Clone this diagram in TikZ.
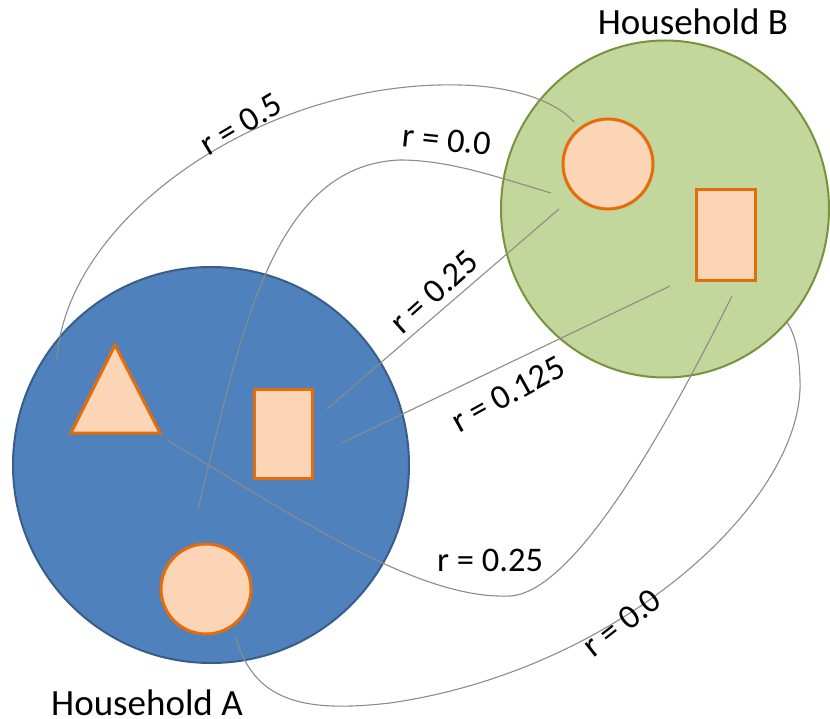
\documentclass[tikz,border=0pt]{standalone}
\usepackage{fontspec}
\setmainfont{Carlito}
\usetikzlibrary{shapes.geometric}
\definecolor{houseAFill}{HTML}{4F81BD}
\definecolor{houseAEdge}{HTML}{385D8A}
\definecolor{houseBFill}{HTML}{C3D69B}
\definecolor{houseBEdge}{HTML}{77933C}
\definecolor{memberFill}{HTML}{FBD5B5}
\definecolor{memberEdge}{HTML}{E46C0A}
\definecolor{linkGray}{HTML}{8C8C8C}
\begin{document}
\begin{tikzpicture}[x=1pt,y=-1pt,
  household/.style={draw, line width=2pt, inner sep=0pt},
  member/.style={draw=memberEdge, fill=memberFill, line width=3pt, inner sep=0pt},
  link/.style={draw=linkGray, line width=1.1pt},
  rlabel/.style={font=\fontsize{34.5}{40}\selectfont, inner sep=0pt},
  hlabel/.style={font=\fontsize{37}{44}\selectfont, inner sep=0pt, anchor=base}]
\useasboundingbox (0,0) rectangle (830,719);

% households
\node[household, circle, draw=houseAEdge, fill=houseAFill, minimum size=396pt] (hhA) at (211,465) {};
\node[household, ellipse, draw=houseBEdge, fill=houseBFill, minimum width=328pt, minimum height=337pt] (hhB) at (665,209) {};

% members of household A
\coordinate (triApex) at (115,345);
\coordinate (triRight) at (160,433);
\coordinate (triLeft) at (71,433);
\draw[member, line join=miter] (triApex) -- (triRight) -- (triLeft) -- cycle;
\node[member, rectangle, minimum width=58pt, minimum height=89pt] (aRect) at (283,433.5) {};
\node[member, circle, minimum size=90pt] (aCircle) at (206,589) {};

% members of household B
\node[member, circle, minimum size=90pt] (bCircle) at (608,164) {};
\node[member, rectangle, minimum width=59pt, minimum height=91pt] (bRect) at (725.5,235.5) {};

% connector ends
\coordinate (triW) at (57,360);
\coordinate (triSE) at (167,440);
\coordinate (aCircN) at (198,509);
\coordinate (aCircSE) at (236,638);
\coordinate (aRectE1) at (327,409);
\coordinate (aRectE2) at (342,443);
\coordinate (bCircNW) at (574,122);
\coordinate (bCircW) at (551,193);
\coordinate (bCircSW) at (559,209);
\coordinate (bRectW) at (670,286);
\coordinate (bRectS) at (732,296);
\coordinate (hhBSE) at (787,322);

% relatedness links
\draw[link] (triW) .. controls (65,220) and (260,80) .. (460,85)
  .. controls (510,86) and (555,100) .. (bCircNW);
\draw[link] (aCircN) .. controls (240,340) and (270,165) .. (400,160)
  .. controls (450,160) and (500,178) .. (bCircW);
\draw[link] (aRectE1) -- (bCircSW);
\draw[link] (aRectE2) -- (bRectW);
\draw[link] (triSE) .. controls (300,520) and (420,600) .. (510,596)
  .. controls (580,592) and (680,400) .. (bRectS);
\draw[link] (aCircSE) .. controls (255,705) and (310,712) .. (390,703)
  .. controls (620,670) and (805,500) .. (800,380)
  .. controls (799,350) and (795,335) .. (hhBSE);

% labels
\node[rlabel, rotate=31] (l1) at (241,124) {r = 0.5};
\node[rlabel, rotate=-6] (l2) at (447,140) {r = 0.0};
\node[rlabel, rotate=42] (l3) at (434,292) {r = 0.25};
\node[rlabel, rotate=29] (l4) at (508,394) {r = 0.125};
\node[rlabel] (l5) at (490,560) {r = 0.25};
\node[rlabel, rotate=38] (l6) at (622,623) {r = 0.0};
\node[hlabel] (nameB) at (693,35) {Household B};
\node[hlabel] (nameA) at (147,715) {Household A};
\end{tikzpicture}
\end{document}
